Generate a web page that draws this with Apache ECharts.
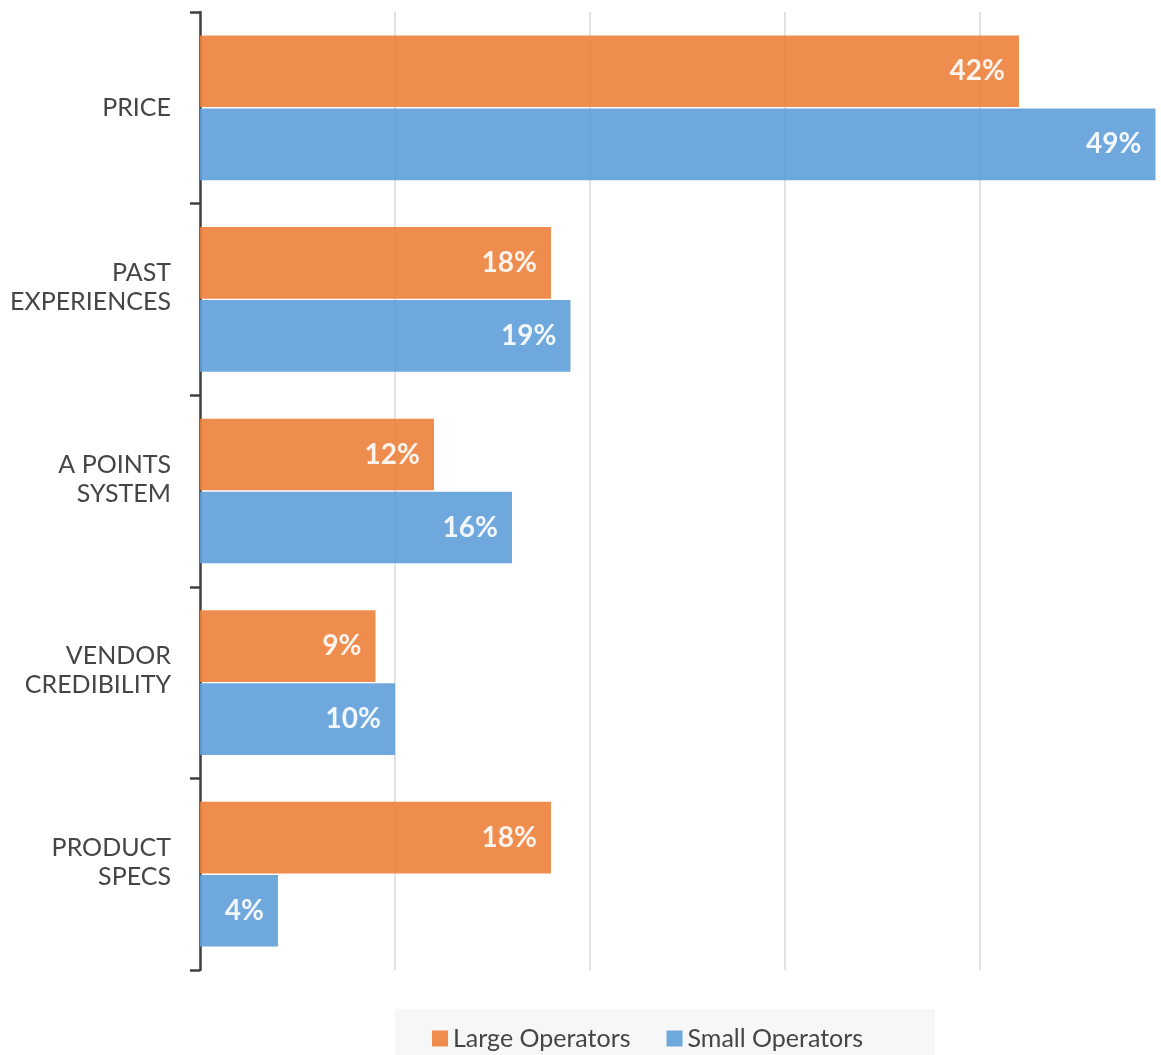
<!DOCTYPE html>
<html>
<head>
<meta charset="utf-8">
<script src="https://cdn.jsdelivr.net/npm/echarts@6/dist/echarts.min.js"></script>
<style>
  html, body { margin: 0; padding: 0; background: #ffffff; }
  #chart { width: 1161px; height: 1055px; }
</style>
</head>
<body>
<div id="chart"></div>
<script>
// Decision factors by operator size (% of respondents)
const categories = ['PRICE', 'PAST\nEXPERIENCES', 'A POINTS\nSYSTEM', 'VENDOR\nCREDIBILITY', 'PRODUCT\nSPECS'];
const largeOperators = [42, 18, 12, 9, 18];
const smallOperators = [49, 19, 16, 10, 4];
const seriesNames = ['Large Operators', 'Small Operators'];

const FONT = 'Lato, "Open Sans", sans-serif';
const TEXT = '#454545';

const chart = echarts.init(document.getElementById('chart'), null, { renderer: 'canvas' });

const valueLabel = {
  show: true,
  position: 'insideRight',
  distance: 14,
  color: '#ffffff',
  fontFamily: FONT,
  fontWeight: 'bold',
  fontSize: 28,
  formatter: p => p.value + '%'
};

// Two-line category names sit a little above the band centre:
// a short spacer line underneath lifts the pair.
function categoryLabel(name) {
  const lines = name.split('\n');
  if (lines.length < 2) return '{a|' + name + '}';
  return lines.map(l => '{a|' + l + '}').join('\n') + '\n{g| }';
}

chart.setOption({
  animation: false,
  backgroundColor: '#ffffff',
  grid: {
    left: 200, top: 12, width: 975, bottom: 85,
    containLabel: false,
    outerBoundsMode: 'none'
  },
  xAxis: {
    type: 'value',
    min: 0,
    max: 50,
    interval: 10,
    axisLine: { show: false },
    axisTick: { show: false },
    axisLabel: { show: false },
    splitLine: { show: true, lineStyle: { color: '#d9d9d9', width: 1.5 } }
  },
  yAxis: {
    type: 'category',
    data: categories,
    inverse: true,
    axisLine: { show: true, lineStyle: { color: '#404040', width: 2.5 } },
    axisTick: { show: true, length: 10, inside: false, lineStyle: { color: '#404040', width: 2.5 } },
    axisLabel: {
      margin: 29,
      color: TEXT,
      fontFamily: FONT,
      fontSize: 25,
      align: 'right',
      formatter: categoryLabel,
      rich: {
        a: { color: TEXT, fontFamily: FONT, fontSize: 25, lineHeight: 29, align: 'right' },
        g: { fontSize: 10, lineHeight: 24 }
      }
    }
  },
  legend: {
    data: seriesNames,
    left: 395,
    bottom: 0,
    icon: 'rect',
    itemWidth: 16,
    itemHeight: 16,
    itemGap: 36,
    backgroundColor: '#f7f7f7',
    padding: [17, 72, 4, 37],
    textStyle: { color: TEXT, fontFamily: FONT, fontSize: 25 }
  },
  series: [
    {
      name: seriesNames[0],
      type: 'bar',
      data: largeOperators,
      barGap: '2%',
      barCategoryGap: '24.5%',
      itemStyle: { color: 'rgb(236,129,59)', opacity: 0.9 },
      label: valueLabel
    },
    {
      name: seriesNames[1],
      type: 'bar',
      data: smallOperators,
      barGap: '2%',
      barCategoryGap: '24.5%',
      itemStyle: { color: 'rgb(95,158,216)', opacity: 0.9 },
      label: valueLabel
    }
  ]
});
</script>
</body>
</html>
